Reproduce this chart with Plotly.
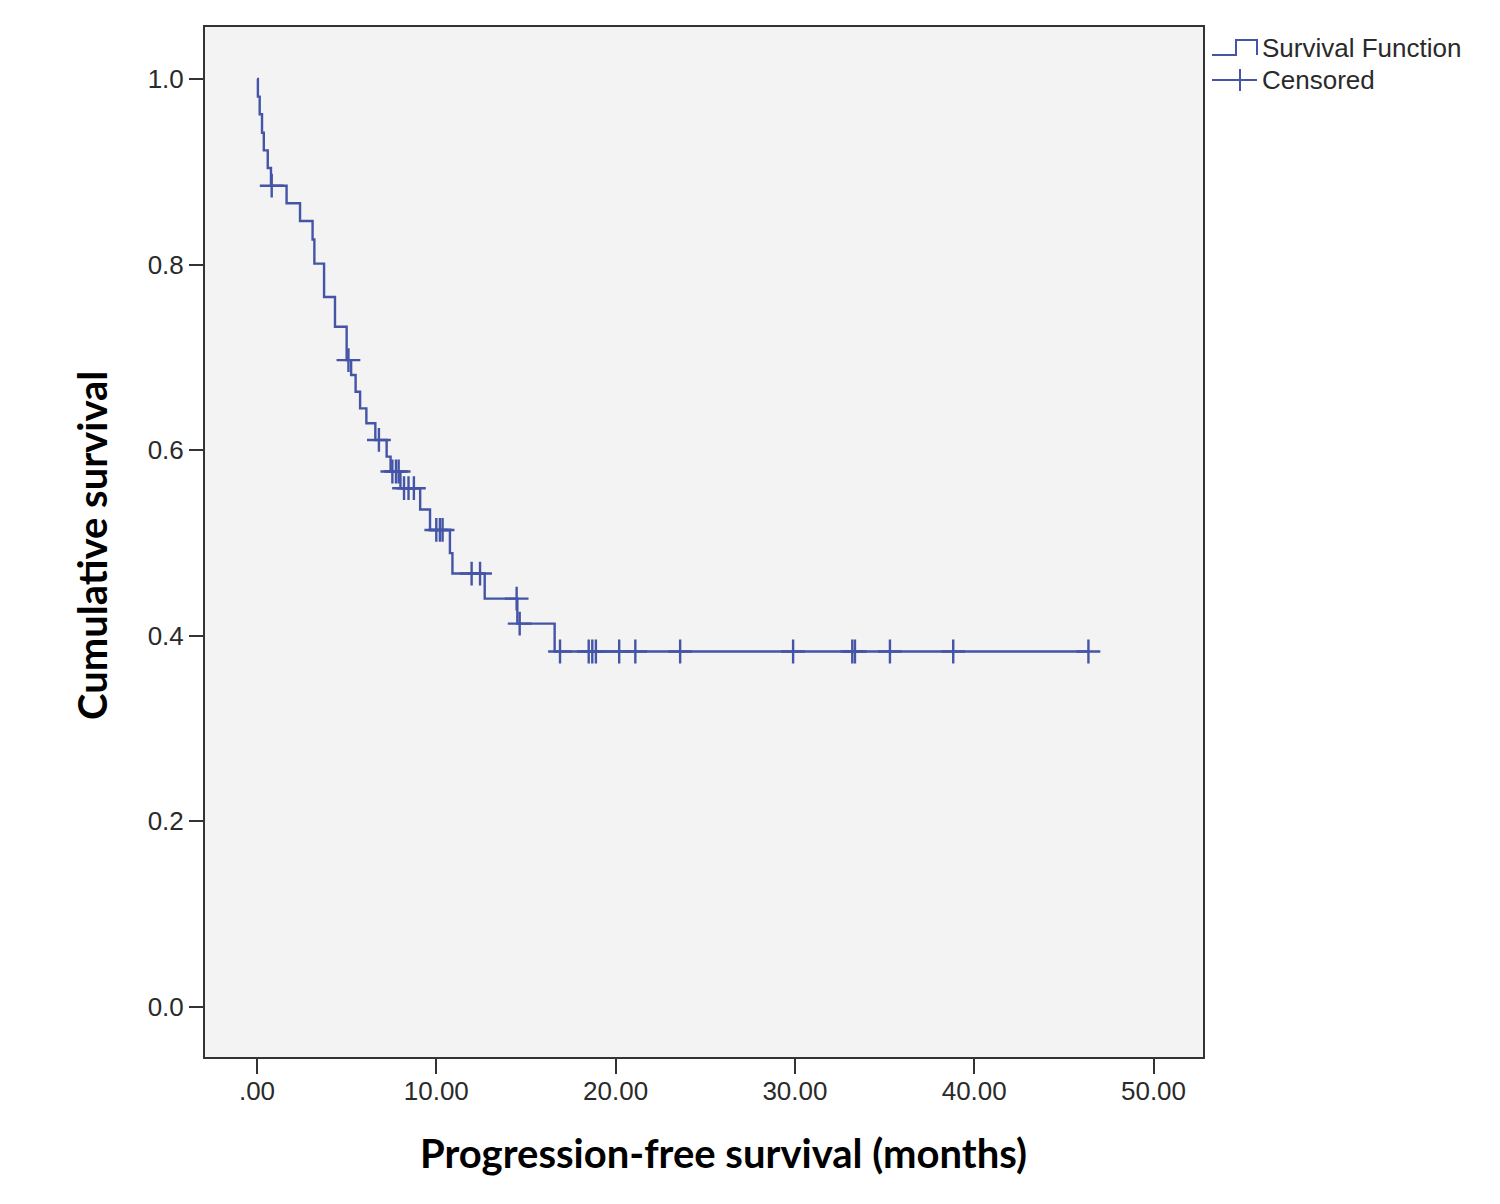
import numpy as np
import plotly.graph_objects as go

# Kaplan-Meier step function (time in months, survival after the drop)
step_times = [0.0, 0.05, 0.15, 0.28, 0.38, 0.6, 0.78, 1.65, 2.4, 3.1, 3.2, 3.74, 4.35,
              5.0, 5.25, 5.5, 5.75, 6.1, 6.6, 7.23, 7.45, 8.0, 9.1, 9.65, 10.76,
              10.9, 12.7, 14.52, 16.6]
step_surv = [1.0, 0.981, 0.962, 0.942, 0.923, 0.904, 0.885, 0.866, 0.847, 0.827, 0.801,
             0.765, 0.733, 0.697, 0.681, 0.663, 0.645, 0.629, 0.611, 0.593, 0.577,
             0.559, 0.536, 0.514, 0.489, 0.467, 0.440, 0.413, 0.383]
censor_times = [0.82, 5.1, 6.8, 7.55, 7.75, 7.9, 8.2, 8.45, 8.75, 10.0, 10.2, 10.35,
                11.97, 12.44, 14.48, 14.65, 16.9, 18.5, 18.7, 18.9, 20.2, 21.1, 23.6,
                29.9, 33.2, 33.35, 35.3, 38.83, 46.37]
end_time = 46.37

x_ticks = [0, 10, 20, 30, 40, 50]
x_tick_labels = [".00", "10.00", "20.00", "30.00", "40.00", "50.00"]
y_ticks = [0.0, 0.2, 0.4, 0.6, 0.8, 1.0]
y_tick_labels = ["0.0", "0.2", "0.4", "0.6", "0.8", "1.0"]

line_color = "#4454a6"
text_color = "#2a2a2a"

# censor y-values looked up from the step function
st = np.array(step_times)
ss = np.array(step_surv)
censor_surv = [float(ss[np.searchsorted(st, t, side="right") - 1]) for t in censor_times]

line_x = step_times + [end_time]
line_y = step_surv + [step_surv[-1]]

fig = go.Figure()
fig.add_trace(go.Scatter(
    x=line_x, y=line_y, mode="lines", line=dict(shape="hv", color=line_color, width=2.4),
    showlegend=False, hoverinfo="skip"))
fig.add_trace(go.Scatter(
    x=censor_times, y=censor_surv, mode="markers",
    marker=dict(symbol="cross-thin", size=17, line=dict(color=line_color, width=2.4)),
    showlegend=False))

W, H = 1500, 1204
OFF = 8  # page body margin
L, T = 205 - OFF, 27 - OFF
pw, ph = 998, 1030
R, B = W - L - pw, H - T - ph


def px(x):
    return (x - OFF - L) / pw


def py(y):
    return (T + ph - (y - OFF)) / ph


shapes = [
    # survival function legend icon (step)
    dict(type="path", xref="paper", yref="paper",
         path=f"M {px(1212)},{py(55)} L {px(1236)},{py(55)} L {px(1236)},{py(40)} "
              f"L {px(1257)},{py(40)} L {px(1257)},{py(55)}",
         line=dict(color=line_color, width=2)),
    # censored legend icon
    dict(type="line", xref="paper", yref="paper", x0=px(1212), x1=px(1257),
         y0=py(80), y1=py(80), line=dict(color=line_color, width=2)),
    dict(type="line", xref="paper", yref="paper", x0=px(1240), x1=px(1240),
         y0=py(69), y1=py(91), line=dict(color=line_color, width=2)),
]

annotations = [
    dict(text="Survival Function", xref="paper", yref="paper", x=px(1260), y=py(48),
         xanchor="left", yanchor="middle", showarrow=False,
         font=dict(family="Liberation Sans, Arial", size=26, color=text_color)),
    dict(text="Censored", xref="paper", yref="paper", x=px(1260), y=py(80),
         xanchor="left", yanchor="middle", showarrow=False,
         font=dict(family="Liberation Sans, Arial", size=26, color=text_color)),
    dict(text="<b>Progression-free survival (months)</b>", xref="paper", yref="paper",
         x=px(723), y=py(1153), xanchor="center", yanchor="middle", showarrow=False,
         font=dict(family="Lato, Open Sans", size=40, color="#000000")),
    dict(text="<b>Cumulative survival</b>", xref="paper", yref="paper",
         x=px(92), y=py(546), xanchor="center", yanchor="middle", showarrow=False,
         textangle=-90,
         font=dict(family="Lato, Open Sans", size=40, color="#000000")),
]

fig.update_layout(
    width=W, height=H,
    margin=dict(l=L, r=R, t=T, b=B, pad=0),
    paper_bgcolor="white",
    plot_bgcolor="#f3f3f3",
    shapes=shapes,
    annotations=annotations,
    xaxis=dict(range=[-2.9, 52.76], tickmode="array", tickvals=x_ticks,
               ticktext=x_tick_labels, ticks="outside", ticklen=15, tickwidth=2,
               tickcolor="#333333", showgrid=False, zeroline=False,
               showline=True, linecolor="#333333", linewidth=2, mirror=True,
               ticklabelstandoff=-5,
               tickfont=dict(family="Liberation Sans, Arial", size=26, color=text_color)),
    yaxis=dict(range=[-0.054, 1.056], tickmode="array", tickvals=y_ticks,
               ticktext=y_tick_labels, ticks="outside", ticklen=14, tickwidth=2,
               tickcolor="#333333", showgrid=False, zeroline=False,
               showline=True, linecolor="#333333", linewidth=2, mirror=True,
               tickfont=dict(family="Liberation Sans, Arial", size=26, color=text_color)),
)

fig.write_html("out.html")
